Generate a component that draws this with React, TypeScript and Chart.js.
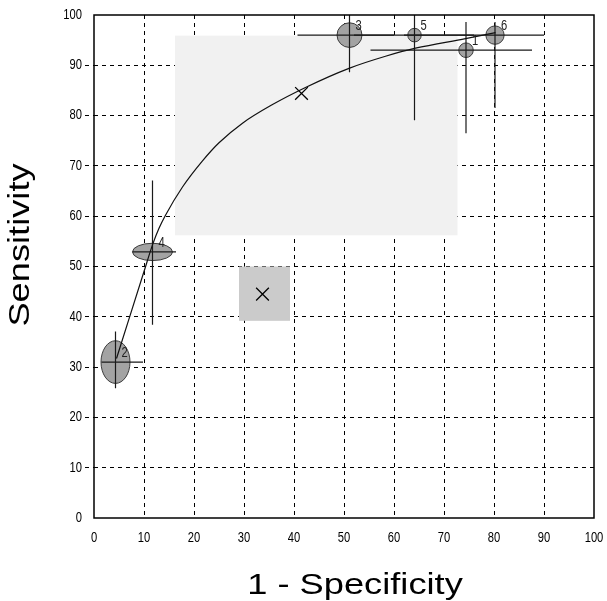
import React, { useEffect, useRef } from "react";
import { Chart, registerables } from "chart.js";

Chart.register(...registerables);

// ---- data ----
const axisTicks = [0, 10, 20, 30, 40, 50, 60, 70, 80, 90, 100];
const axisTickLabels = ["0", "10", "20", "30", "40", "50", "60", "70", "80", "90", "100"];

const studyIds = ["1", "2", "3", "4", "5", "6"];
const studyFpr = [74.4, 4.3, 51.1, 11.7, 64.1, 80.2];
const studySens = [93.0, 31.0, 96.0, 52.9, 96.0, 96.0];
const fprLow = [55.3, 1.5, 40.7, 7.7, 52.0, 62.0];
const fprHigh = [87.6, 9.8, 60.0, 16.4, 76.0, 90.0];
const sensLow = [76.5, 25.8, 88.6, 38.4, 79.1, 81.5];
const sensHigh = [98.6, 37.1, 100.0, 67.1, 100.0, 98.6];
// study weights drawn as ellipse half-axes (in axis units)
const weightFpr = [1.45, 2.9, 2.5, 4.0, 1.35, 1.83];
const weightSens = [1.45, 4.24, 2.45, 1.72, 1.35, 1.83];

// SROC curve
const curveFpr = [4.5, 7.0, 10.0, 11.7, 13.0, 14.3, 17.7, 21.7, 25.0, 29.7, 35.7, 42.3, 51.0, 58.3, 64.3, 74.3, 80.3];
const curveSens = [31.7, 39.6, 49.0, 54.3, 57.6, 60.2, 65.8, 71.0, 74.6, 78.5, 82.2, 85.6, 89.4, 91.8, 93.4, 95.3, 96.5];

// summary points and their regions
const summaryFpr = [41.5, 33.7];
const summarySens = [84.4, 44.5];
const regionFprLow = [16.2, 29.0];
const regionFprHigh = [72.7, 39.2];
const regionSensLow = [56.2, 39.2];
const regionSensHigh = [95.9, 50.0];
const regionColors = ["#f1f1f1", "#cbcbcb"];

const labelFont = "'Liberation Sans', Arial, sans-serif";
const NARROW = 0.8;

function narrowText(ctx: any, text: string, x: number, y: number, align: string) {
  ctx.save();
  ctx.translate(x, y);
  ctx.scale(NARROW, 1);
  ctx.textAlign = align;
  ctx.fillText(text, 0, 0);
  ctx.restore();
}

const decorPlugin = {
  id: "srocDecor",
  beforeDatasetsDraw(chart: any) {
    const { ctx, chartArea } = chart;
    const xs = chart.scales.x;
    const ys = chart.scales.y;
    ctx.save();
    ctx.beginPath();
    ctx.rect(chartArea.left, chartArea.top, chartArea.right - chartArea.left, chartArea.bottom - chartArea.top);
    ctx.clip();
    // regions
    for (let i = 0; i < regionFprLow.length; i++) {
      const x1 = xs.getPixelForValue(regionFprLow[i]);
      const x2 = xs.getPixelForValue(regionFprHigh[i]);
      const y1 = ys.getPixelForValue(regionSensHigh[i]);
      const y2 = ys.getPixelForValue(regionSensLow[i]);
      ctx.fillStyle = regionColors[i];
      ctx.fillRect(x1, y1, x2 - x1, y2 - y1);
    }
    // study ellipses
    for (let i = 0; i < studyIds.length; i++) {
      const cx = xs.getPixelForValue(studyFpr[i]);
      const cy = ys.getPixelForValue(studySens[i]);
      const rx = Math.abs(xs.getPixelForValue(studyFpr[i] + weightFpr[i]) - cx);
      const ry = Math.abs(ys.getPixelForValue(studySens[i] + weightSens[i]) - cy);
      ctx.beginPath();
      ctx.ellipse(cx, cy, rx, ry, 0, 0, Math.PI * 2);
      ctx.fillStyle = "#a3a3a3";
      ctx.fill();
      ctx.lineWidth = 1;
      ctx.strokeStyle = "#3c3c3c";
      ctx.stroke();
    }
    // confidence intervals
    ctx.strokeStyle = "#1a1a1a";
    ctx.lineWidth = 1.2;
    for (let i = 0; i < studyIds.length; i++) {
      const cx = xs.getPixelForValue(studyFpr[i]);
      const cy = ys.getPixelForValue(studySens[i]);
      ctx.beginPath();
      ctx.moveTo(xs.getPixelForValue(fprLow[i]), cy);
      ctx.lineTo(xs.getPixelForValue(fprHigh[i]), cy);
      ctx.moveTo(cx, ys.getPixelForValue(sensLow[i]));
      ctx.lineTo(cx, ys.getPixelForValue(sensHigh[i]));
      ctx.stroke();
    }
    ctx.restore();
  },
  afterDatasetsDraw(chart: any) {
    const { ctx } = chart;
    const xs = chart.scales.x;
    const ys = chart.scales.y;
    ctx.save();
    ctx.fillStyle = "#222";
    ctx.font = `14px ${labelFont}`;
    ctx.textBaseline = "middle";
    for (let i = 0; i < studyIds.length; i++) {
      const cx = xs.getPixelForValue(studyFpr[i]);
      const cy = ys.getPixelForValue(studySens[i]);
      narrowText(ctx, studyIds[i], cx + 6, cy - 9, "left");
    }
    ctx.restore();
  },
  afterDraw(chart: any) {
    const { ctx, chartArea } = chart;
    const xs = chart.scales.x;
    const ys = chart.scales.y;
    ctx.save();
    ctx.strokeStyle = "#000";
    ctx.lineWidth = 1.5;
    ctx.strokeRect(chartArea.left, chartArea.top, chartArea.right - chartArea.left, chartArea.bottom - chartArea.top);
    // tick labels
    ctx.fillStyle = "#000";
    ctx.font = `14px ${labelFont}`;
    ctx.textBaseline = "middle";
    for (let i = 0; i < axisTicks.length; i++) {
      narrowText(ctx, axisTickLabels[i], xs.getPixelForValue(axisTicks[i]), chartArea.bottom + 20, "center");
      narrowText(ctx, axisTickLabels[i], chartArea.left - 12, ys.getPixelForValue(axisTicks[i]), "right");
    }
    // axis titles
    ctx.font = `29px ${labelFont}`;
    ctx.textAlign = "center";
    ctx.textBaseline = "alphabetic";
    ctx.save();
    ctx.translate(355, 594);
    ctx.scale(1.25, 1);
    ctx.fillText("1 - Specificity", 0, 0);
    ctx.restore();
    ctx.save();
    ctx.translate(29, 245);
    ctx.rotate(-Math.PI / 2);
    ctx.scale(1.25, 1);
    ctx.fillText("Sensitivity", 0, 0);
    ctx.restore();
    ctx.restore();
  },
};

const gridColor = (c: any) =>
  c.tick && (c.tick.value === 0 || c.tick.value === 100) ? "rgba(0,0,0,0)" : "#000";

export default function App() {
  const ref = useRef<HTMLCanvasElement | null>(null);

  useEffect(() => {
    document.body.style.margin = "0";
    if (!ref.current) return;
    const chart = new Chart(ref.current, {
      type: "scatter",
      data: {
        datasets: [
          {
            type: "line",
            label: "SROC curve",
            data: curveFpr.map((v, i) => ({ x: v, y: curveSens[i] })),
            borderColor: "#111",
            borderWidth: 1.2,
            pointRadius: 0,
            fill: false,
            cubicInterpolationMode: "monotone",
          } as any,
          {
            label: "Summary",
            data: summaryFpr.map((v, i) => ({ x: v, y: summarySens[i] })),
            pointStyle: "crossRot",
            pointRadius: 9,
            borderColor: "#000",
            borderWidth: 1.3,
            backgroundColor: "#000",
          },
        ],
      },
      options: {
        responsive: false,
        animation: false,
        layout: { padding: { left: 0, top: 15, right: 13, bottom: 0 } },
        plugins: { legend: { display: false }, tooltip: { enabled: false } },
        scales: {
          x: {
            type: "linear",
            min: 0,
            max: 100,
            afterBuildTicks: (s: any) => {
              s.ticks = axisTicks.map((v) => ({ value: v }));
            },
            afterFit: (s: any) => {
              s.height = 83;
              s.paddingLeft = 0;
              s.paddingRight = 0;
            },
            border: { display: false, dash: [4, 4] },
            grid: {
              color: gridColor,
              lineWidth: 1,
              drawTicks: false,
            },
            ticks: { display: false },
          },
          y: {
            type: "linear",
            min: 0,
            max: 100,
            afterBuildTicks: (s: any) => {
              s.ticks = axisTicks.map((v) => ({ value: v }));
            },
            afterFit: (s: any) => {
              s.width = 94;
              s.paddingTop = 0;
              s.paddingBottom = 0;
            },
            border: { display: false, dash: [4, 4] },
            grid: {
              color: gridColor,
              lineWidth: 1,
              tickBorderDash: [4, 4],
              tickLength: 9,
            } as any,
            ticks: { display: false },
          },
        },
      },
      plugins: [decorPlugin],
    });
    return () => chart.destroy();
  }, []);

  return (
    <div style={{ position: "absolute", left: 0, top: 0, width: 607, height: 601, background: "#fff" }}>
      <canvas ref={ref} width={607} height={601} />
    </div>
  );
}
